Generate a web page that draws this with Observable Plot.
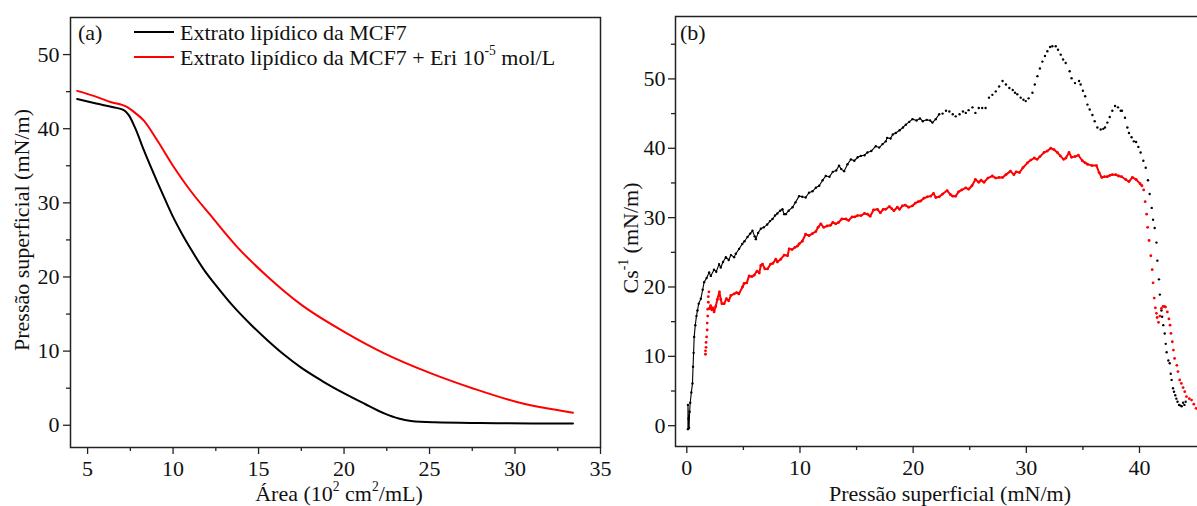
<!DOCTYPE html>
<html><head><meta charset="utf-8">
<script src="https://cdn.jsdelivr.net/npm/d3@7"></script>
<script src="https://cdn.jsdelivr.net/npm/@observablehq/plot@0.6"></script>
<style>
html,body{margin:0;padding:0;background:#fff;overflow:hidden}
#wrap{position:relative;width:1197px;height:506px;overflow:hidden;font-family:"Liberation Serif","Times New Roman",serif;color:#111}
#wrap svg{position:absolute;top:0}
.lbl{position:absolute;white-space:nowrap;font-size:22px;line-height:22px}
.lbl sup{font-size:0.62em;line-height:0;position:relative;top:-0.1em;vertical-align:super}
.sw{position:absolute;height:2px;width:40px}
</style></head><body><div id="wrap"></div>
<script>
// ---------- Panel (a): isotherms (area, surface pressure) ----------
const aBlack = [[4.39,44.0],[5.5,43.4],[6.5,42.9],[7.12,42.5],[7.42,41.8],[7.8,40.0],[8.29,37.1],[9.08,32.8],[9.66,29.8],[10.0,28.1],[10.5,25.9],[11.03,23.8],[11.8,21.0],[12.6,18.6],[13.5,16.1],[14.54,13.6],[15.5,11.5],[16.5,9.5],[17.47,7.8],[18.7,6.0],[20.01,4.3],[21.2,2.9],[22.35,1.6],[23.2,0.9],[23.92,0.58],[25.28,0.4],[28.0,0.3],[31.0,0.25],[33.39,0.23]];
const aRed = [[4.39,45.1],[5.4,44.4],[6.34,43.6],[7.32,42.9],[7.8,42.1],[8.29,41.1],[9.08,38.4],[10.05,34.8],[11.03,31.6],[12.2,28.3],[13.77,24.0],[15.5,20.1],[17.47,16.3],[20.01,12.6],[22.35,9.7],[25.09,7.0],[27.63,4.9],[30.17,3.1],[33.39,1.7]];
const aXTicks = [5,10,15,20,25,30,35];
const aXMinor = [7.5,12.5,17.5,22.5,27.5,32.5];
const aYTicks = [0,10,20,30,40,50];
const aYMinor = [5,15,25,35,45];

// ---------- Panel (b): compressibility modulus vs surface pressure ----------
const bBlack = [[0.1,-0.5],[0.1,3.0],[0.15,1.0],[0.2,-0.3],[0.25,2.0],[0.3,3.3],[0.4,4.8],[0.5,6.1],[0.55,8.5],[0.6,10.5],[0.65,12.8],[0.75,14.5],[0.85,15.8],[0.94,16.6],[1.05,17.6],[1.24,18.3],[1.4,19.6],[1.53,20.7],[1.75,21.3],[1.97,22.1],[2.12,21.6],[2.4,22.5],[2.6,22.2],[2.85,23.3],[3.0,22.8],[3.2,23.6],[3.45,24.3],[3.7,23.9],[3.9,24.6],[4.18,24.3],[4.33,24.8],[4.62,25.5],[4.9,26.2],[5.1,26.6],[5.36,27.2],[5.6,27.7],[5.8,28.1],[6.0,27.3],[6.1,26.9],[6.3,27.8],[6.54,28.4],[6.8,28.6],[7.1,29.0],[7.35,29.5],[7.57,29.8],[7.8,30.3],[8.0,30.6],[8.25,31.0],[8.45,31.2],[8.6,30.5],[8.75,30.5],[9.0,31.0],[9.34,31.5],[9.6,32.2],[9.92,33.1],[10.2,33.0],[10.5,32.9],[10.8,33.6],[11.1,33.8],[11.4,34.3],[11.7,34.6],[12.0,35.4],[12.28,36.0],[12.6,35.9],[12.9,36.6],[13.2,36.8],[13.45,37.5],[13.65,37.0],[13.9,36.7],[14.2,37.7],[14.5,38.4],[14.8,38.2],[15.1,38.7],[15.37,38.9],[15.7,39.0],[15.96,39.4],[16.3,39.6],[16.7,40.3],[17.0,40.1],[17.3,40.6],[17.58,41.0],[17.7,41.5],[18.0,41.4],[18.2,42.0],[18.46,42.2],[18.8,42.6],[19.1,43.0],[19.35,43.4],[19.65,43.8],[19.94,44.2],[20.3,44.0],[20.6,44.3],[20.85,43.9],[21.2,44.1],[21.5,44.0],[21.7,43.7],[22.0,44.2],[22.3,44.9],[22.6,45.0],[22.9,45.4],[23.2,45.3],[23.5,44.9],[23.76,44.6],[24.1,44.9],[24.4,45.3],[24.65,45.1],[24.9,45.5],[25.24,45.9],[25.5,45.1],[25.8,45.8],[26.1,45.8],[26.4,45.8],[26.7,47.3],[27.0,47.7],[27.3,48.2],[27.6,48.9],[27.9,49.7],[28.2,49.2],[28.5,48.7],[28.8,48.4],[29.0,48.0],[29.2,47.8],[29.5,47.3],[29.75,47.0],[29.95,46.8],[30.2,47.2],[30.54,48.0],[30.75,49.2],[30.98,50.4],[31.2,51.5],[31.42,52.5],[31.65,53.3],[31.86,54.0],[32.1,54.6],[32.3,54.7],[32.6,54.7],[32.8,54.2],[33.04,53.5],[33.25,52.8],[33.48,52.3],[33.83,51.1],[34.0,50.1],[34.3,49.4],[34.66,49.7],[34.8,49.2],[35.0,48.3],[35.2,47.5],[35.4,46.3],[35.6,45.6],[35.84,44.8],[36.04,43.9],[36.28,43.0],[36.57,42.7],[36.8,42.8],[36.95,43.0],[37.16,43.7],[37.37,44.5],[37.6,45.4],[37.84,46.1],[38.1,45.9],[38.34,45.4],[38.45,45.4],[38.72,44.4],[38.93,43.0],[39.07,42.2],[39.3,41.6],[39.5,41.0],[39.7,40.9],[39.9,40.2],[40.1,39.4],[40.34,38.2],[40.55,37.2],[40.75,35.4],[40.9,33.4],[41.08,31.4],[41.2,29.7],[41.34,28.5],[41.5,26.4],[41.58,23.8],[41.72,21.1],[41.8,18.9],[41.94,16.6],[42.0,15.7],[42.1,14.5],[42.23,13.3],[42.32,11.8],[42.4,10.6],[42.55,9.4],[42.67,9.0],[42.76,7.5],[42.84,6.6],[42.96,5.4],[43.05,4.9],[43.16,4.4],[43.26,3.9],[43.36,3.45],[43.5,3.0],[43.62,2.9],[43.73,2.8],[43.85,3.3],[43.97,3.0],[44.08,3.45]];
const bRed = [[1.65,10.3],[1.65,10.8],[1.7,11.3],[1.7,12.0],[1.75,12.8],[1.8,13.8],[1.8,14.8],[1.85,15.8],[1.85,16.8],[1.9,17.8],[1.9,18.6],[1.95,19.3],[2.0,16.9],[2.1,17.3],[2.2,16.7],[2.3,17.0],[2.41,16.4],[2.55,17.2],[2.7,18.2],[2.88,19.3],[3.0,18.2],[3.1,17.6],[3.3,17.6],[3.5,18.3],[3.7,18.0],[3.9,18.8],[4.18,19.0],[4.4,19.2],[4.6,19.0],[4.92,20.0],[5.06,20.5],[5.3,20.6],[5.5,21.6],[5.75,21.5],[5.95,21.7],[6.2,22.3],[6.4,22.0],[6.54,23.1],[6.69,23.3],[6.9,22.6],[7.13,22.6],[7.4,23.3],[7.6,23.4],[7.86,24.0],[8.0,23.6],[8.3,24.0],[8.6,24.6],[8.9,24.5],[9.04,25.5],[9.3,25.4],[9.55,25.7],[9.78,25.9],[9.92,26.2],[10.2,26.6],[10.5,27.6],[10.8,27.4],[11.1,27.7],[11.4,28.0],[11.6,28.6],[11.84,29.1],[12.1,28.6],[12.4,28.8],[12.7,28.9],[12.9,29.3],[13.16,29.1],[13.4,29.3],[13.7,29.8],[14.05,29.8],[14.3,29.6],[14.6,30.1],[14.85,30.1],[15.08,30.3],[15.4,30.3],[15.7,30.6],[15.96,30.5],[16.2,30.2],[16.5,31.1],[16.85,31.2],[17.1,30.7],[17.35,31.2],[17.58,31.2],[17.9,31.6],[18.1,31.3],[18.3,31.0],[18.6,31.5],[18.8,31.2],[19.05,31.7],[19.3,31.8],[19.6,31.5],[19.94,31.7],[20.2,32.1],[20.45,32.3],[20.67,32.4],[20.95,32.8],[21.25,33.0],[21.55,33.1],[21.8,33.5],[22.0,32.9],[22.3,33.0],[22.6,33.4],[23.0,33.9],[23.3,33.3],[23.5,33.1],[23.76,33.1],[24.0,33.7],[24.3,34.0],[24.65,34.3],[24.9,34.1],[25.2,34.6],[25.5,35.5],[25.8,35.1],[26.0,35.4],[26.26,35.1],[26.6,35.7],[27.0,36.0],[27.3,35.7],[27.6,35.8],[27.9,35.8],[28.2,36.2],[28.6,36.7],[28.9,36.2],[29.1,36.6],[29.4,36.5],[29.7,37.2],[30.1,37.9],[30.4,38.3],[30.7,38.6],[30.95,38.4],[31.2,38.8],[31.57,39.4],[31.85,39.6],[32.16,40.0],[32.45,39.8],[32.74,39.4],[33.0,38.9],[33.3,38.4],[33.5,38.6],[33.77,39.4],[34.0,38.7],[34.3,38.8],[34.6,39.0],[34.95,38.2],[35.2,37.9],[35.4,37.7],[35.8,37.5],[36.2,37.5],[36.43,36.5],[36.67,35.8],[36.9,35.9],[37.16,35.9],[37.4,36.1],[37.6,36.2],[37.9,36.2],[38.15,36.0],[38.42,35.9],[38.78,35.5],[39.07,35.2],[39.37,35.8],[39.7,35.5],[40.05,34.9],[40.22,34.6],[40.37,34.0],[40.5,32.3],[40.63,30.5],[40.72,28.6],[40.85,26.7],[41.0,24.5],[41.12,22.5],[41.2,20.6],[41.3,18.4],[41.4,17.0],[41.5,16.2],[41.56,15.6],[41.68,14.9],[41.8,15.8],[41.94,16.9],[42.08,17.2],[42.2,17.2],[42.3,17.1],[42.46,16.4],[42.6,15.4],[42.7,14.5],[42.78,13.3],[42.9,12.1],[43.0,10.9],[43.1,9.7],[43.3,8.7],[43.4,7.8],[43.55,6.6],[43.7,6.1],[43.85,5.5],[44.0,4.9],[44.15,4.2],[44.4,3.9],[44.6,3.7],[44.8,3.1],[45.0,2.5]];
const bXTicks = [0,10,20,30,40];
const bXMinor = [5,15,25,35];
const bYTicks = [0,10,20,30,40,50];
const bYMinor = [5,15,25,35,45,55];
// ranges of each series drawn as a continuous trace (dense acquisition)
const bBlackTrace = [0, 22.5];
const bRedTrace = [2.0, 40.3];

const toObj = p => ({x: p[0], y: p[1]});
const serif = '"Liberation Serif","Times New Roman",serif';
const font = {fontFamily: serif, fontSize: "22px", color: "#111", background: "transparent", overflow: "visible"};
const ink = "#222";

const plotA = Plot.plot({
  width: 615, height: 506,
  marginLeft: 70, marginRight: 15, marginTop: 17, marginBottom: 59,
  style: font,
  x: {domain: [4, 35]},
  y: {domain: [-3, 55]},
  marks: [
    Plot.axisX(aXTicks, {tickSize: 7, tickPadding: 6, label: null, stroke: ink, strokeWidth: 1.3}),
    Plot.axisX(aXMinor, {tickSize: 4, tickFormat: () => "", label: null, stroke: ink, strokeWidth: 1.3}),
    Plot.axisY(aYTicks, {tickSize: 7, tickPadding: 4, label: null, stroke: ink, strokeWidth: 1.3}),
    Plot.axisY(aYMinor, {tickSize: 4, tickFormat: () => "", label: null, stroke: ink, strokeWidth: 1.3}),
    Plot.line(aBlack.map(toObj), {x: "x", y: "y", stroke: "#000", strokeWidth: 2, curve: "monotone-x"}),
    Plot.line(aRed.map(toObj), {x: "x", y: "y", stroke: "#ff0000", strokeWidth: 2, curve: "monotone-x"}),
    Plot.frame({stroke: ink, strokeWidth: 1.5})
  ]
});

const bB = bBlack.map(toObj), bR = bRed.map(toObj);
const plotB = Plot.plot({
  width: 615, height: 506,
  marginLeft: 60, marginRight: 5, marginTop: 16, marginBottom: 60,
  style: font,
  x: {domain: [-1, 47.6]},
  y: {domain: [-3, 59]},
  marks: [
    Plot.axisX(bXTicks, {tickSize: 7, tickPadding: 6, label: null, stroke: ink, strokeWidth: 1.3}),
    Plot.axisX(bXMinor, {tickSize: 4, tickFormat: () => "", label: null, stroke: ink, strokeWidth: 1.3}),
    Plot.axisY(bYTicks, {tickSize: 7, tickPadding: 3, label: null, stroke: ink, strokeWidth: 1.3}),
    Plot.axisY(bYMinor, {tickSize: 4, tickFormat: () => "", label: null, stroke: ink, strokeWidth: 1.3}),
    Plot.line(bB.filter(d => d.x >= bBlackTrace[0] && d.x <= bBlackTrace[1]), {x: "x", y: "y", stroke: "#000", strokeWidth: 1.1}),
    Plot.dot(bB, {x: "x", y: "y", fill: "#000", r: 1.2}),
    Plot.line(bR.filter(d => d.x >= bRedTrace[0] && d.x <= bRedTrace[1]), {x: "x", y: "y", stroke: "#ff0000", strokeWidth: 2}),
    Plot.dot(bR, {x: "x", y: "y", fill: "#ff0000", r: 1.4}),
    Plot.frame({stroke: ink, strokeWidth: 1.5})
  ]
});

const wrap = document.getElementById("wrap");
plotA.style.left = "0px";
plotB.style.left = "615px";
wrap.appendChild(plotA);
wrap.appendChild(plotB);

// text overlays: baseline sits ~18.4px below the top of a 22px line box
function label(html, x, baseline, opts = {}) {
  const d = document.createElement("div");
  d.className = "lbl";
  d.innerHTML = html;
  d.style.left = x + "px";
  d.style.top = (baseline - 18.4) + "px";
  if (opts.center) d.style.transform = "translateX(-50%)";
  wrap.appendChild(d);
  return d;
}
function vlabel(html, cx, cy) {
  const d = document.createElement("div");
  d.className = "lbl";
  d.innerHTML = html;
  d.style.left = cx + "px";
  d.style.top = cy + "px";
  d.style.transform = "translate(-50%,-50%) rotate(-90deg)";
  wrap.appendChild(d);
}
function swatch(color, x, y) {
  const d = document.createElement("div");
  d.className = "sw";
  d.style.background = color;
  d.style.left = x + "px";
  d.style.top = (y - 1) + "px";
  wrap.appendChild(d);
}

label("(a)", 78, 40);
swatch("#000", 134, 32);
label("Extrato lipídico da MCF7", 180, 40);
swatch("#ff0000", 134, 57);
label("Extrato lipídico da MCF7 + Eri 10<sup>-5</sup> mol/L", 180, 65);
label("(b)", 680, 40);

label("Área (10<sup>2</sup> cm<sup>2</sup>/mL)", 339, 501, {center: true});
label("Pressão superficial (mN/m)", 950, 501, {center: true});
vlabel("Pressão superficial (mN/m)", 22, 230);
vlabel("Cs<sup>-1</sup> (mN/m)", 631, 238);
</script></body></html>
